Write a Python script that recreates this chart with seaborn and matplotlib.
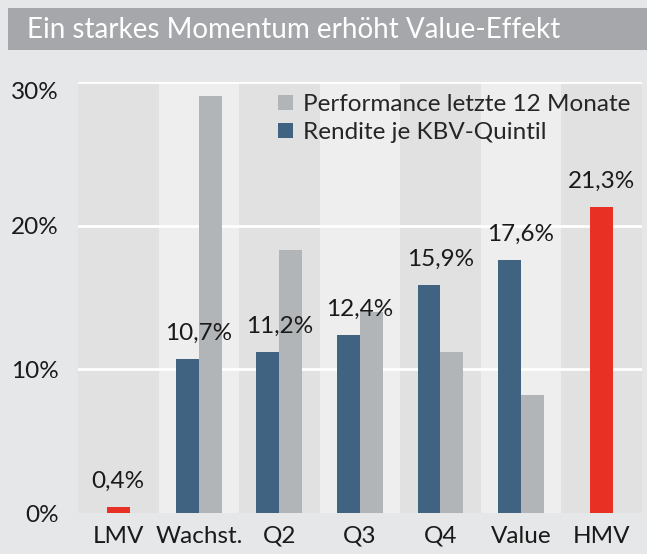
import matplotlib
matplotlib.use("Agg")
import matplotlib.pyplot as plt
import pandas as pd
import seaborn as sns
from matplotlib.patches import Rectangle

categories = ["LMV", "Wachst.", "Q2", "Q3", "Q4", "Value", "HMV"]
quintiles = ["Wachst.", "Q2", "Q3", "Q4", "Value"]
rendite = [10.7, 11.2, 12.4, 15.9, 17.6]
performance = [29.0, 18.3, 14.0, 11.2, 8.2]
extremes = ["LMV", "HMV"]
extreme_vals = [0.4, 21.3]
labels = ["0,4%", "10,7%", "11,2%", "12,4%", "15,9%", "17,6%", "21,3%"]
label_vals = [0.4, 10.7, 11.2, 12.4, 15.9, 17.6, 21.3]

s_rend = "Rendite je KBV-Quintil"
s_perf = "Performance letzte 12 Monate"

BLUE = "#3f6380"
GRAY = "#b2b5b7"
RED = "#e83025"
BG = "#e6e7e8"
TXT = "#1a1a1a"
FS = 17.5

sns.set_theme(style="white")
plt.rcParams["font.family"] = ["Lato", "DejaVu Sans"]

df = pd.DataFrame({
    "cat": quintiles * 2,
    "val": rendite + performance,
    "serie": [s_rend] * len(quintiles) + [s_perf] * len(quintiles),
})
df_ext = pd.DataFrame({"cat": extremes, "val": extreme_vals})

fig = plt.figure(figsize=(6.47, 5.54), dpi=100, facecolor=BG)
ax = fig.add_axes([0.1206, 0.074, 0.8714, 0.778])
ax.set_facecolor(BG)

# alternating column bands
for i, c in enumerate(categories):
    ax.axvspan(i - 0.5, i + 0.5, color="#e1e1e1" if i % 2 == 0 else "#eeeeee", zorder=0, lw=0)
for y in [10, 20, 30]:
    ax.axhline(y, color="white", lw=2, zorder=0.5)

sns.barplot(data=df, x="cat", y="val", hue="serie", order=categories,
            hue_order=[s_rend, s_perf], palette=[BLUE, GRAY], width=0.57,
            ax=ax, zorder=2, saturation=1, linewidth=0)
sns.barplot(data=df_ext, x="cat", y="val", order=categories, color=RED,
            width=0.285, ax=ax, zorder=2, saturation=1, linewidth=0)

for i, (t, v) in enumerate(zip(labels, label_vals)):
    ax.annotate(t, (i, v), xytext=(0, 18.5), textcoords="offset points",
                ha="center", va="center", fontsize=FS, color=TXT)

ax.set_xlim(-0.5, len(categories) - 0.5)
ax.set_ylim(0, 30)
ax.set_yticks([0, 10, 20, 30])
ax.set_yticklabels(["0%", "10%", "20%", "30%"])
ax.tick_params(axis="both", length=0, labelsize=FS, colors=TXT)
ax.tick_params(axis="y", pad=14)
ax.tick_params(axis="x", pad=9)
ax.get_yticklabels()[-1].set_va("top")
ax.set_xlabel("")
ax.set_ylabel("")
sns.despine(ax=ax, left=True, bottom=True, top=True, right=True)

h, l = ax.get_legend_handles_labels()
ax.legend([h[1], h[0]], [l[1], l[0]], loc="upper left", bbox_to_anchor=(0.338, 0.995),
          frameon=False, fontsize=FS, handlelength=0.6, handleheight=0.6,
          handletextpad=0.4, labelspacing=0.3, borderaxespad=0)

# title banner
fig.patches.append(Rectangle((8 / 647, 1 - 50 / 554), 1, 42 / 554, transform=fig.transFigure,
                             facecolor="#a5a7aa", edgecolor="none"))
fig.text(27 / 647, 1 - 30 / 554, "Ein starkes Momentum erhöht Value-Effekt",
         color="white", fontsize=20, va="center", ha="left")

fig.savefig("out.png", dpi=100, facecolor=BG)
